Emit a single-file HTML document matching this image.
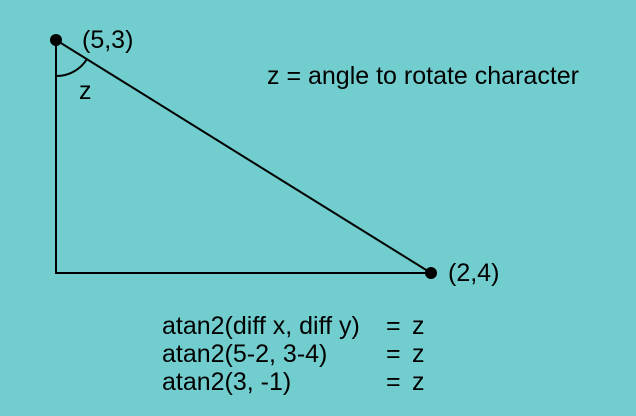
<!DOCTYPE html>
<html><head><style>
html,body{margin:0;padding:0;background:#72cece;}
svg{display:block}
text{font-family:"Liberation Sans",sans-serif;font-size:25px;fill:#000}
</style></head><body>
<svg width="636" height="416" viewBox="0 0 636 416">
<rect width="636" height="416" fill="#72cece"/>
<g stroke="#000" stroke-width="2" fill="none">
<line x1="56" y1="40" x2="56" y2="273"/>
<line x1="55" y1="273" x2="431" y2="273"/>
<line x1="56" y1="40" x2="431" y2="273"/>
<path d="M56 76 A36 36 0 0 0 87 59"/>
</g>
<circle cx="56" cy="40" r="6" fill="#000"/>
<circle cx="431" cy="273" r="6" fill="#000"/>
<text x="82" y="48">(5,3)</text>
<text x="79" y="99">z</text>
<text x="267" y="84">z = angle to rotate character</text>
<text x="448" y="281">(2,4)</text>
<text x="162" y="334">atan2(diff x, diff y)</text>
<text x="162" y="362">atan2(5-2, 3-4)</text>
<text x="162" y="390">atan2(3, -1)</text>
<text x="386" y="334">=</text><text x="412" y="334">z</text>
<text x="386" y="362">=</text><text x="412" y="362">z</text>
<text x="386" y="390">=</text><text x="412" y="390">z</text>
</svg>
</body></html>
